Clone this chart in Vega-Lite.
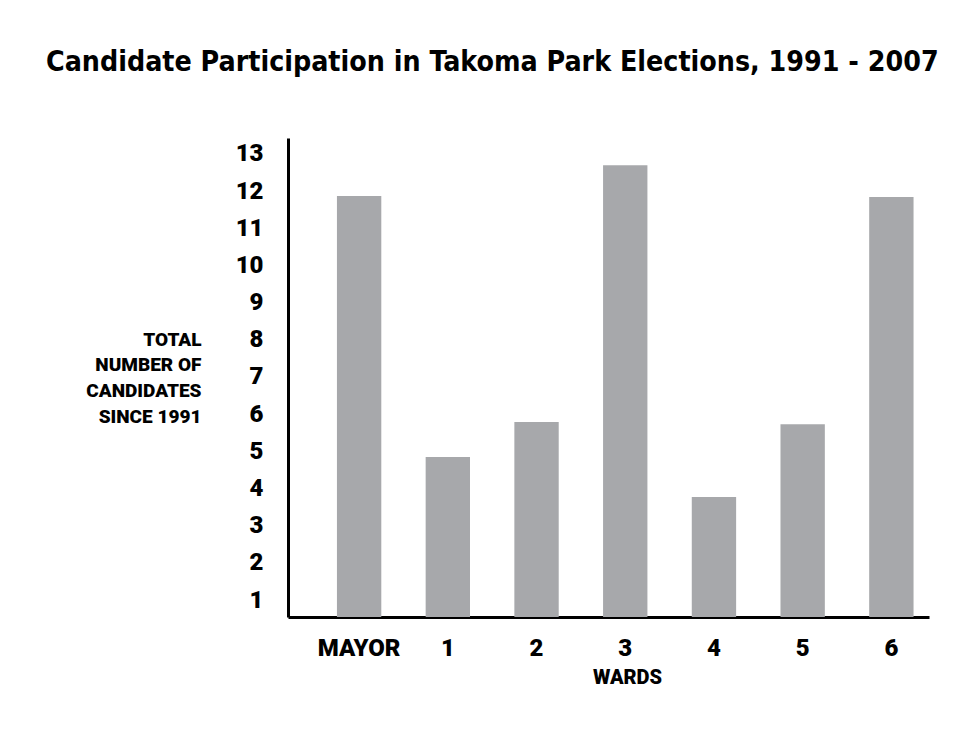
{
  "$schema": "https://vega.github.io/schema/vega-lite/v6.json",
  "width": 641,
  "height": 479,
  "autosize": {"type": "none"},
  "padding": {"left": 288, "top": 138, "right": 33, "bottom": 138},
  "background": "white",
  "title": {
    "text": "Candidate Participation in Takoma Park Elections, 1991 - 2007",
    "anchor": "start",
    "frame": "group",
    "dx": -242,
    "offset": 39,
    "baseline": "alphabetic",
    "font": "DejaVu Sans Condensed, Roboto Condensed, Roboto",
    "fontWeight": "bold",
    "fontSize": 28.3,
    "color": "black"
  },
  "config": {
    "view": {"stroke": null},
    "axis": {"grid": false, "ticks": false, "domainColor": "black", "domainWidth": 3, "labelColor": "black", "titleColor": "black", "labelFont": "Roboto", "titleFont": "Roboto", "labelFontWeight": 900, "titleFontWeight": 900}
  },
  "data": {
    "values": [
      {"ward": "MAYOR", "candidates": 11.87},
      {"ward": "1", "candidates": 4.85},
      {"ward": "2", "candidates": 5.79},
      {"ward": "3", "candidates": 12.7},
      {"ward": "4", "candidates": 3.77},
      {"ward": "5", "candidates": 5.73},
      {"ward": "6", "candidates": 11.84}
    ]
  },
  "mark": {"type": "bar", "color": "#a7a8ab", "clip": true},
  "encoding": {
    "x": {
      "field": "ward",
      "type": "nominal",
      "sort": null,
      "scale": {"paddingInner": 0.5, "paddingOuter": 0.363, "align": 0.76},
      "axis": {
        "title": "WARDS",
        "labelAngle": 0,
        "labelFontSize": 24,
        "labelPadding": 19,
        "titleFontSize": 20,
        "titlePadding": 7,
        "titleX": 339,
        "titleAlign": "center",
        "titleAnchor": null
      }
    },
    "y": {
      "field": "candidates",
      "type": "quantitative",
      "scale": {"domain": [0.543, 13.43], "zero": false, "nice": false},
      "axis": {
        "title": ["TOTAL", "NUMBER OF", "CANDIDATES", "SINCE 1991"],
        "values": [1, 2, 3, 4, 5, 6, 7, 8, 9, 10, 11, 12, 13],
        "labelFontSize": 24,
        "labelPadding": 25,
        "titleAngle": 0,
        "titleAlign": "right",
        "titleBaseline": "top",
        "titleX": -87,
        "titleY": 192,
        "titleFontSize": 19,
        "titleLineHeight": 25.7
      }
    }
  }
}
